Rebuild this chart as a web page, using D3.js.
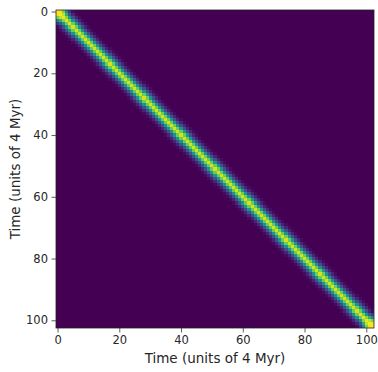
<!DOCTYPE html>
<html>
<head>
<meta charset="utf-8">
<script src="https://cdn.jsdelivr.net/npm/d3@7"></script>
<style>
  html, body { margin: 0; padding: 0; background: #fff; }
  svg { display: block; }
  text { font-family: "DejaVu Sans", sans-serif; fill: #262626; }
</style>
</head>
<body>
<svg id="chart" width="378" height="372"></svg>
<script>
// ---- data ----
const nSteps = 103;                       // matrix is nSteps x nSteps (time indices)
const tickValues = [0, 20, 40, 60, 80, 100];
const tickLabels = ["0", "20", "40", "60", "80", "100"];
const axisLabel = "Time (units of 4 Myr)";
// value by distance from the diagonal |i - j| (0 = on diagonal)
const bandProfile = [0.94, 0.77, 0.5, 0.25, 0.1, 0.03];
// brighter, wider patch in the top-left corner (mirrored at bottom-right)
const cornerPatch = [
  [1.00, 0.97, 0.80, 0.45, 0.16],
  [0.97, 1.00, 0.91, 0.63, 0.27],
  [0.80, 0.91, 0.97, 0.82, 0.50],
  [0.45, 0.63, 0.82, 0.96, 0.78],
  [0.16, 0.27, 0.50, 0.78, 0.95]
];

// ---- build the cell table ----
const cells = [];
for (let i = 0; i < nSteps; i++) {
  for (let j = 0; j < nSteps; j++) {
    const d = Math.abs(i - j);
    let v = d < bandProfile.length ? bandProfile[d] : 0;
    const k = cornerPatch.length;
    if (i < k && j < k) v = cornerPatch[i][j];
    const ii = nSteps - 1 - i, jj = nSteps - 1 - j;
    if (ii < k && jj < k) v = cornerPatch[ii][jj];
    cells.push({ row: i, col: j, value: v });
  }
}

// ---- layout ----
const pL = 56, pR = 374, pT = 10, pB = 328;
const svg = d3.select("#chart");

const xBand = d3.scaleBand().domain(d3.range(nSteps)).range([pL, pR]).padding(0);
const yBand = d3.scaleBand().domain(d3.range(nSteps)).range([pT, pB]).padding(0);
const xLin = d3.scaleLinear().domain([-0.5, nSteps - 0.5]).range([pL, pR]);
const yLin = d3.scaleLinear().domain([-0.5, nSteps - 0.5]).range([pT, pB]);
const color = d3.scaleSequential(d3.interpolateViridis).domain([0, 1]);

svg.append("g")
  .selectAll("rect")
  .data(cells)
  .join("rect")
  .attr("x", d => xBand(d.col))
  .attr("y", d => yBand(d.row))
  .attr("width", xBand.bandwidth() + 0.3)
  .attr("height", yBand.bandwidth() + 0.3)
  .attr("fill", d => color(d.value))
  .attr("shape-rendering", "crispEdges");

// frame
svg.append("rect")
  .attr("x", pL).attr("y", pT)
  .attr("width", pR - pL).attr("height", pB - pT)
  .attr("fill", "none").attr("stroke", "#222").attr("stroke-width", 0.8);

// axes
const xAxis = d3.axisBottom(xLin).tickValues(tickValues)
  .tickFormat((d, i) => tickLabels[i]).tickSize(4.5).tickPadding(3.5);
const yAxis = d3.axisLeft(yLin).tickValues(tickValues)
  .tickFormat((d, i) => tickLabels[i]).tickSize(4.5).tickPadding(3.5);

const gx = svg.append("g").attr("transform", `translate(0,${pB})`).call(xAxis);
const gy = svg.append("g").attr("transform", `translate(${pL},0)`).call(yAxis);
[gx, gy].forEach(g => {
  g.select(".domain").remove();
  g.selectAll(".tick line").attr("stroke", "#333").attr("stroke-width", 0.8);
  g.selectAll(".tick text").style("font-size", "11.5px")
    .style("font-family", "'DejaVu Sans', sans-serif").attr("fill", "#333");
});

svg.append("text")
  .attr("x", (pL + pR) / 2).attr("y", 363)
  .attr("text-anchor", "middle")
  .style("font-size", "13.5px")
  .text(axisLabel);

svg.append("text")
  .attr("transform", `translate(20,${(pT + pB) / 2}) rotate(-90)`)
  .attr("text-anchor", "middle")
  .style("font-size", "13.5px")
  .text(axisLabel);
</script>
</body>
</html>
